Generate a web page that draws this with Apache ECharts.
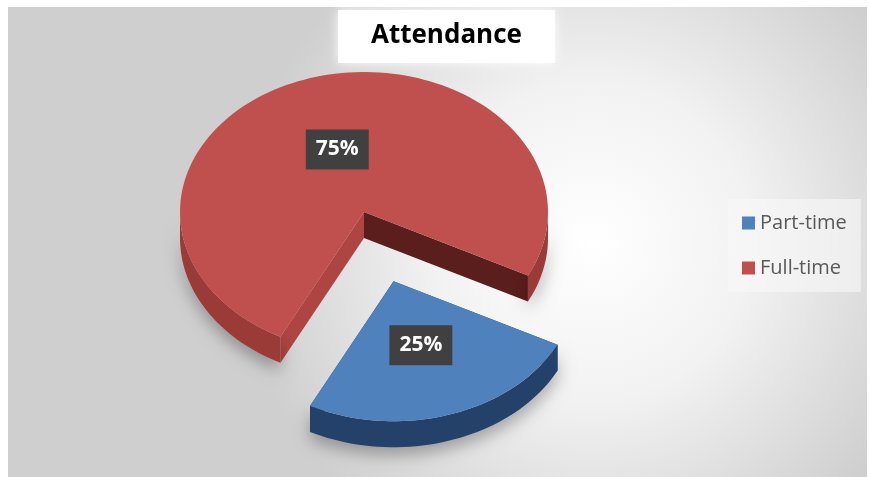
<!DOCTYPE html>
<html>
<head>
<meta charset="utf-8">
<script src="https://cdn.jsdelivr.net/npm/echarts@6/dist/echarts.min.js"></script>
<style>
html, body { margin: 0; padding: 0; background: #fff; }
#container { width: 870px; height: 477px; }
</style>
</head>
<body>
<div id="container"></div>
<script>
var categories = ['Part-time', 'Full-time'];
var shares = [25, 75];
var labels = ['25%', '75%'];

window.onload = function () {
    var myChart = echarts.init(document.getElementById('container'));

    // ellipse used to fake the tilted 3d pie
    var pie = { cx: 364, cy: 212, rx: 184, ry: 140, depth: 26, start: 27 };
    var explode = [0.52, 0];
    var labelPos = [0.48, 0.47];
    var looks = [
        { top: '#4f81bd', wall: '#24416a', cutA: '#1f3a60', cutB: '#2c4e7e' },
        { top: '#c0504d', wall: '#9a3b38', cutA: '#5a1e1c', cutB: '#ae4542' }
    ];
    var total = 0;
    shares.forEach(function (v) { total += v; });

    function pt(c, t, dy) {
        var r = t * Math.PI / 180;
        return [c[0] + pie.rx * Math.cos(r), c[1] + pie.ry * Math.sin(r) + (dy || 0)];
    }
    function arcPts(c, from, to, dy) {
        var pts = [];
        for (var t = from; t < to; t += 2) pts.push(pt(c, t, dy));
        pts.push(pt(c, to, dy));
        return pts;
    }

    function renderSlice(idx) {
        return function (params, api) {
            var before = 0;
            for (var i = 0; i < idx; i++) before += shares[i];
            var a0 = pie.start + before / total * 360;
            var a1 = a0 + api.value(0) / total * 360;
            var mid = (a0 + a1) / 2, mr = mid * Math.PI / 180;
            var k = explode[idx];
            var c = [pie.cx + k * pie.rx * Math.cos(mr), pie.cy + k * pie.ry * Math.sin(mr)];
            var h = pie.depth;
            var look = looks[idx];
            var children = [];

            // cut faces
            [[a1, look.cutA], [a0, look.cutB]].forEach(function (f) {
                children.push({
                    type: 'polygon',
                    shape: { points: [c, pt(c, f[0]), pt(c, f[0], h), [c[0], c[1] + h]] },
                    style: { fill: f[1] }
                });
            });

            // front (visible) part of the rim
            [[0, 180], [360, 540]].forEach(function (r) {
                var s = Math.max(a0, r[0]), e = Math.min(a1, r[1]);
                if (e <= s) return;
                var top = arcPts(c, s, e, 0);
                var bottom = arcPts(c, s, e, h).reverse();
                children.push({
                    type: 'polygon',
                    shape: { points: top.concat(bottom) },
                    style: {
                        fill: look.wall,
                        shadowBlur: 16,
                        shadowColor: 'rgba(0,0,0,0.3)',
                        shadowOffsetY: 8
                    }
                });
            });

            children.push({
                type: 'polygon',
                shape: { points: [c].concat(arcPts(c, a0, a1, 0)) },
                style: { fill: look.top }
            });

            var f = labelPos[idx];
            children.push({
                type: 'text',
                style: {
                    x: c[0] + f * pie.rx * Math.cos(mr),
                    y: c[1] + f * pie.ry * Math.sin(mr),
                    text: labels[idx],
                    fill: '#fff',
                    font: 'bold 21px "Open Sans"',
                    align: 'center',
                    verticalAlign: 'middle',
                    backgroundColor: '#404040',
                    padding: [10, 10, 9, 10],
                    boxShadowBlur: 6,
                    boxShadowColor: 'rgba(0,0,0,0.45)',
                    boxShadowOffsetX: 2,
                    boxShadowOffsetY: 3
                }
            });

            return { type: 'group', children: children };
        };
    }

    var option = {
        animation: false,
        graphic: [{
            type: 'rect',
            z: -10,
            shape: { x: 8, y: 7, width: 859, height: 470 },
            style: {
                fill: {
                    type: 'radial', x: 0.68, y: 0.5, r: 0.75,
                    colorStops: [
                        { offset: 0, color: '#ffffff' },
                        { offset: 0.45, color: '#f2f2f2' },
                        { offset: 1, color: '#cfcfcf' }
                    ]
                }
            }
        }],
        title: {
            text: 'Attendance',
            left: 338,
            top: 10,
            backgroundColor: '#ffffff',
            padding: [13, 33, 14, 33],
            shadowBlur: 10,
            shadowColor: 'rgba(255,255,255,0.9)',
            textStyle: {
                fontFamily: 'Open Sans',
                fontSize: 26,
                fontWeight: 'bold',
                color: '#000'
            }
        },
        legend: {
            data: categories,
            orient: 'vertical',
            left: 728,
            top: 199,
            icon: 'rect',
            itemWidth: 13,
            itemHeight: 13,
            itemGap: 25,
            padding: [14, 14, 14, 14],
            backgroundColor: 'rgba(248,248,248,0.6)',
            textStyle: { fontFamily: 'Open Sans', fontSize: 20, color: '#595959' }
        },
        series: [{
            name: categories[0],
            type: 'custom',
            coordinateSystem: 'none',
            z: 3,
            itemStyle: { color: looks[0].top },
            renderItem: renderSlice(0),
            data: [shares[0]]
        }, {
            name: categories[1],
            type: 'custom',
            coordinateSystem: 'none',
            z: 2,
            itemStyle: { color: looks[1].top },
            renderItem: renderSlice(1),
            data: [shares[1]]
        }]
    };
    myChart.setOption(option);
};
</script>
</body>
</html>
